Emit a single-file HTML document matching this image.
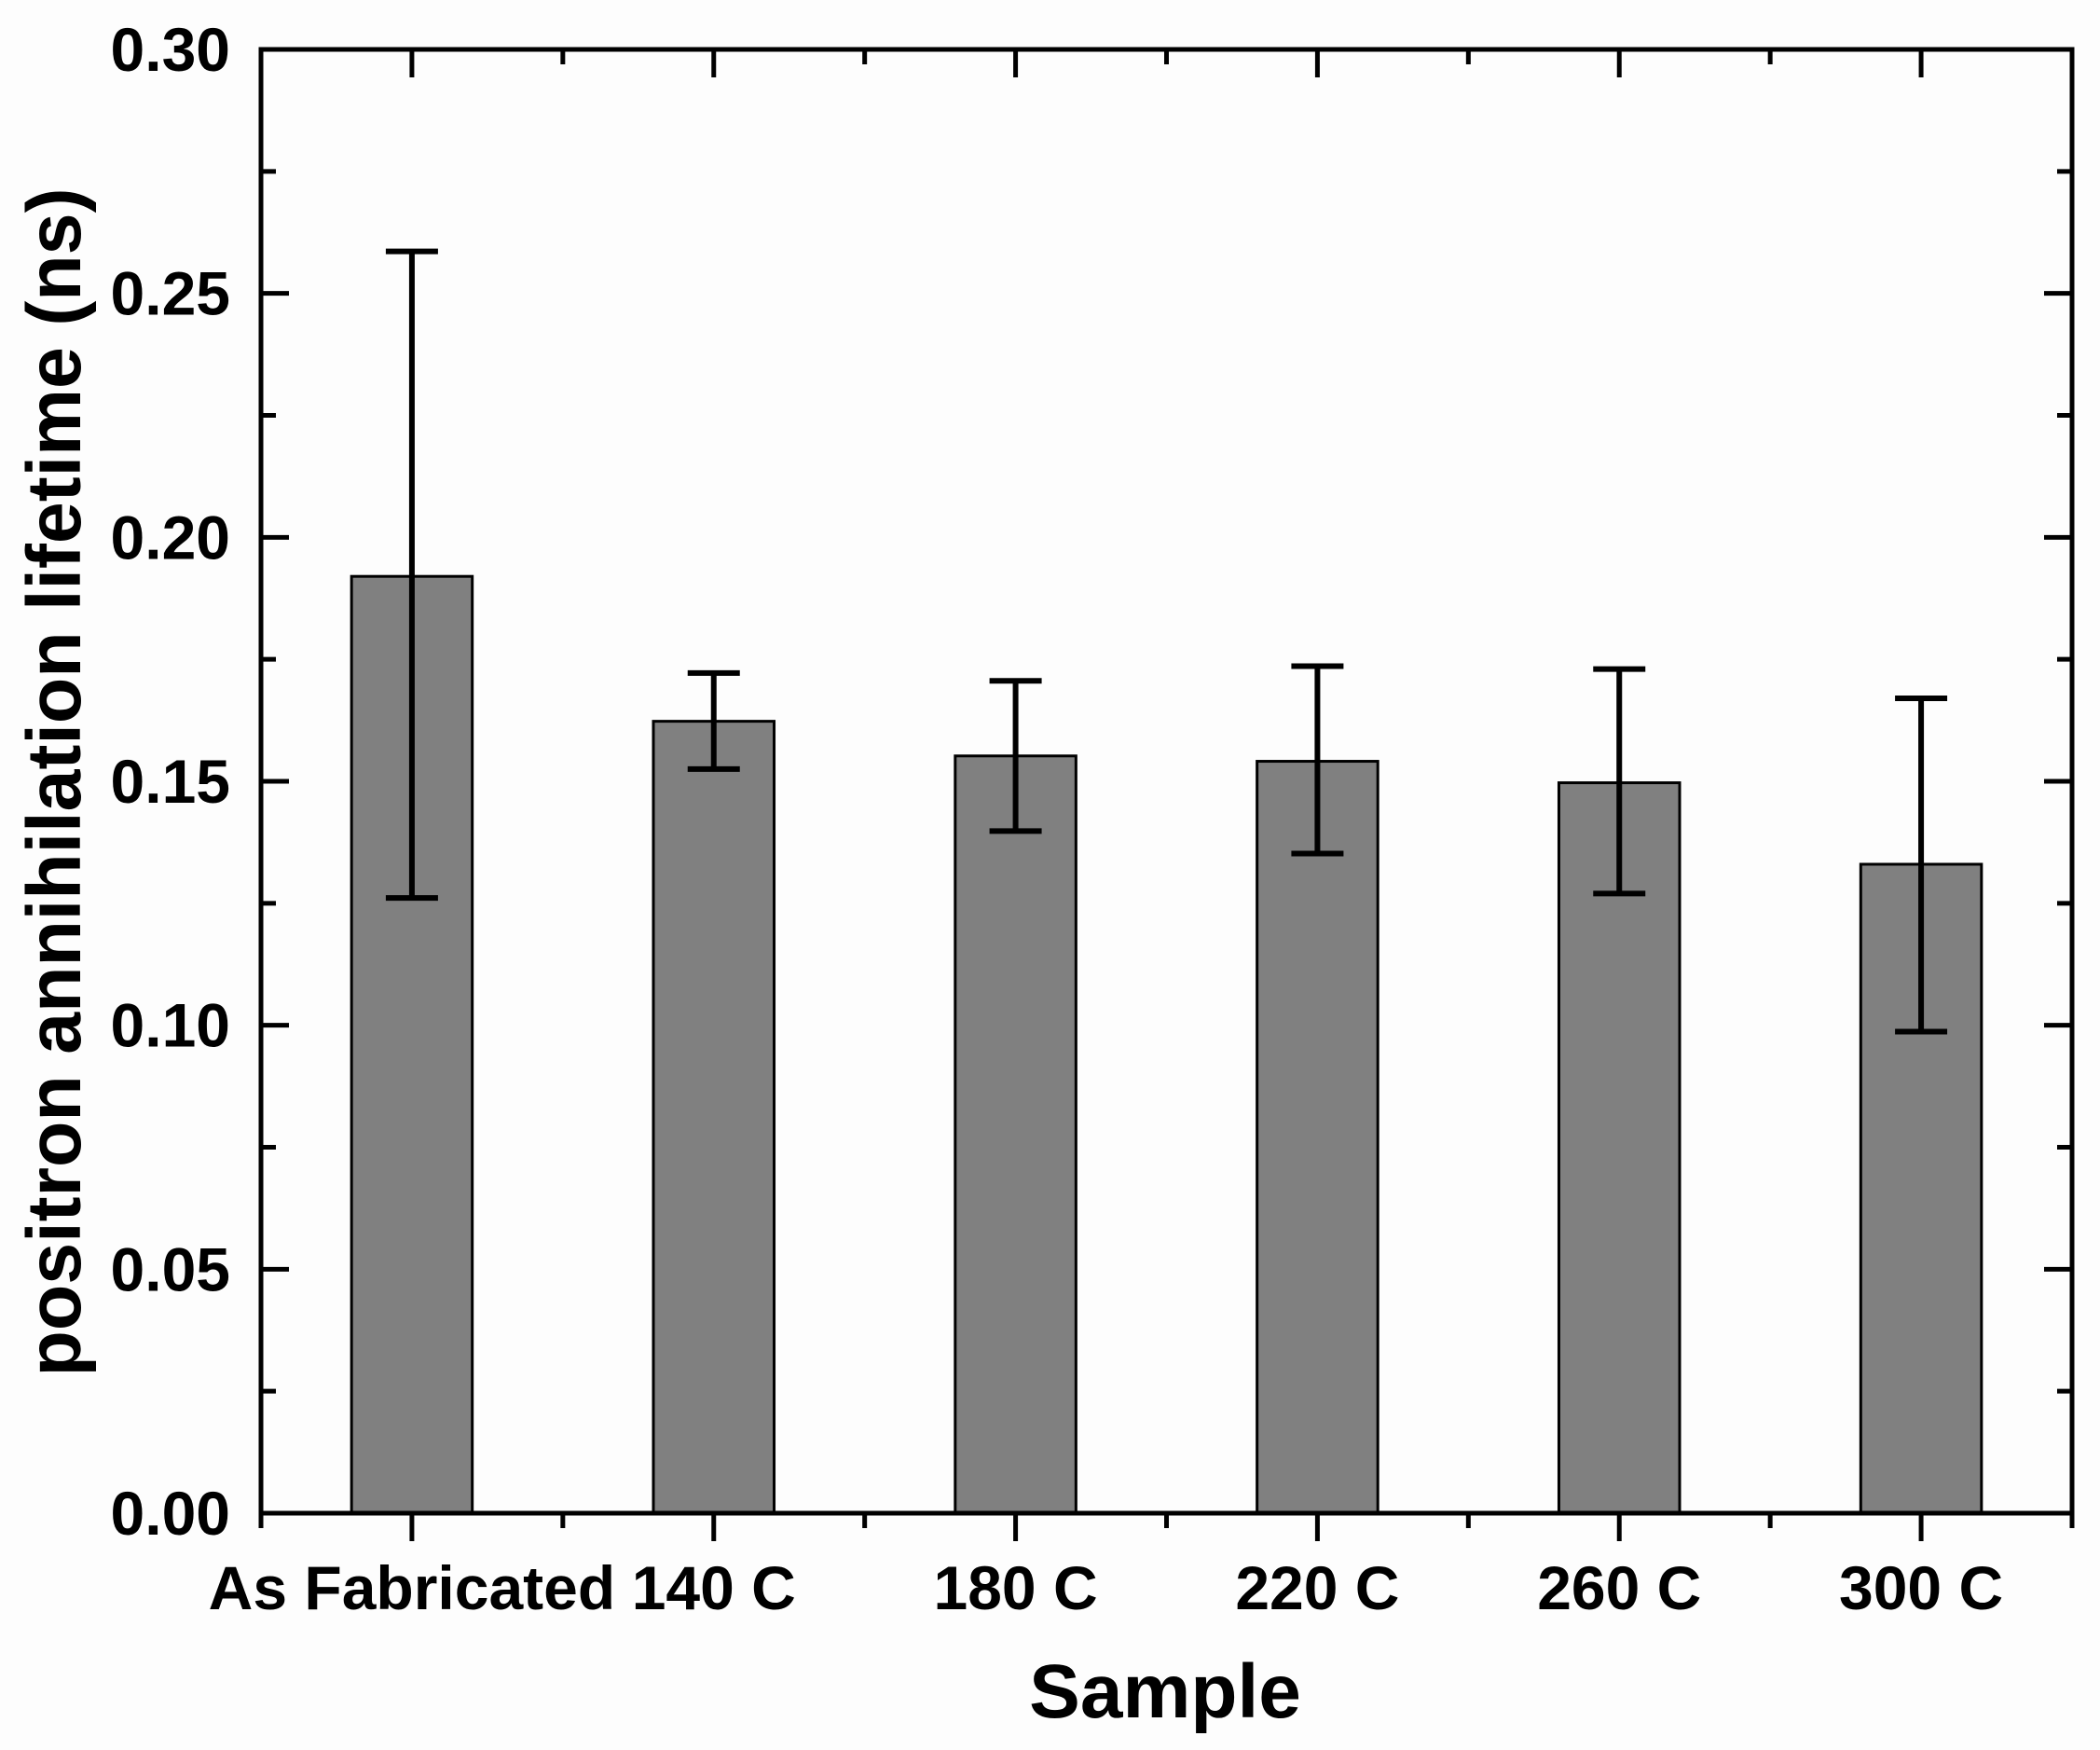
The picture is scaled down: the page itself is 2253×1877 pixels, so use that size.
<!DOCTYPE html>
<html><head><meta charset="utf-8"><style>
html,body{margin:0;padding:0;background:#fff;}
svg{display:block;}
text{font-family:"Liberation Sans",Arial,sans-serif;font-weight:bold;fill:#000;}
</style></head><body>
<svg id="chart" width="2253" height="1877" viewBox="0 0 2253 1877" xmlns="http://www.w3.org/2000/svg">
<rect width="2253" height="1877" fill="#fdfdfd"/>
<g id="plot"></g>
<text x="1250" y="1842" font-size="82" text-anchor="middle">Sample</text>
<text transform="translate(86,839) rotate(-90)" font-size="82" text-anchor="middle" textLength="1275" lengthAdjust="spacingAndGlyphs">positron annihilation lifetime (ns)</text>
</svg>
<script>
const categories = ["As Fabricated","140 C","180 C","220 C","260 C","300 C"];
const values = [0.192,0.1623,0.1552,0.1541,0.1497,0.133];
const errUpper = [0.2586,0.1722,0.1706,0.1736,0.173,0.167];
const errLower = [0.1261,0.1525,0.1398,0.1352,0.127,0.0987];
const yTicks = [0,0.05,0.10,0.15,0.20,0.25,0.30];
const yTickLabels = ["0.00","0.05","0.10","0.15","0.20","0.25","0.30"];

const L=280,R=2223,T=53,B=1623,yMax=0.3;
const NS="http://www.w3.org/2000/svg";
const g=document.getElementById('plot');
const band=(R-L)/categories.length;
function xC(i){return L+band*(i+0.5);}
function yS(v){return B-(v/yMax)*(B-T);}
function mk(tag,attrs){const e=document.createElementNS(NS,tag);for(const k in attrs)e.setAttribute(k,attrs[k]);g.appendChild(e);return e;}

categories.forEach((c,i)=>{
  const w=band*0.4,x=xC(i)-w/2,y=yS(values[i]);
  const r=mk('rect',{x:x,y:y,width:w,height:B-y,fill:'#808080',stroke:'#000','stroke-width':3});
  
  
});
categories.forEach((c,i)=>{
  const x=xC(i),y1=yS(errUpper[i]),y2=yS(errLower[i]);
  const p=mk('path',{d:`M${x},${y1}V${y2}M${x-28},${y1}H${x+28}M${x-28},${y2}H${x+28}`,stroke:'#000','stroke-width':6,fill:'none'});
  
  
});
const fr=mk('rect',{x:L,y:T,width:R-L,height:B-T,fill:'none',stroke:'#000','stroke-width':5});


let d='';
yTicks.forEach((v,i)=>{
  const y=yS(v);
  d+=`M${L},${y}h30M${R},${y}h-30`;
  if(i<yTicks.length-1){const ym=yS(v+0.025);d+=`M${L},${ym}h16M${R},${ym}h-16`;}
  const t=mk('text',{x:247,y:y+23,'font-size':66,'text-anchor':'end'});
  t.textContent=yTickLabels[i];
  
  
});
categories.forEach((c,i)=>{
  const x=xC(i);
  d+=`M${x},${B}v30M${x},${T}v30`;
  const xm=L+band*(i+1);
  d+=`M${xm},${B}v16M${xm},${T}v16`;
  const t=mk('text',{x:x,y:1726,'font-size':66,'text-anchor':'middle'});
  t.textContent=c;
  
  
});
d+=`M${L},${B}v16`;
const tk=mk('path',{d:d,stroke:'#000','stroke-width':5,fill:'none'});


</script>
</body></html>
